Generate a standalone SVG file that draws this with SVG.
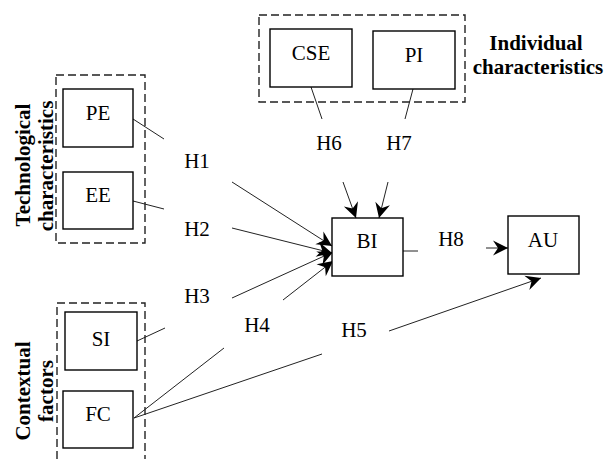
<svg xmlns="http://www.w3.org/2000/svg" width="604" height="459" viewBox="0 0 604 459">
  <style>
    .box { fill: #fff; stroke: #000; stroke-width: 1.4; }
    .group { fill: none; stroke: #222; stroke-width: 1.4; stroke-dasharray: 8 4; }
    .lbl { font-family: "Liberation Serif", "Times New Roman", serif; font-size: 21px; fill: #000; text-anchor: middle; }
    .grp { font-family: "Liberation Serif", "Times New Roman", serif; font-size: 21px; font-weight: bold; fill: #000; text-anchor: middle; }
    .link { fill: none; stroke: #222; stroke-width: 1; }
    .arrow { fill: none; stroke: #222; stroke-width: 1; marker-end: url(#head); }
  </style>
  <defs>
    <marker id="head" markerUnits="userSpaceOnUse" viewBox="-16 -9 17 18" markerWidth="17" markerHeight="18" refX="0" refY="0" orient="auto">
      <path d="M0,0 L-15,-7.5 L-10,0 L-15,7.5 Z" fill="#000"/>
    </marker>
  </defs>

  <rect width="604" height="459" fill="#fff"/>

  <!-- construct groupings -->
  <g id="group-technological">
    <rect class="group" x="56" y="75" width="89" height="168"/>
    <text class="grp" transform="translate(29.5,165) rotate(-90)">Technological</text>
    <text class="grp" transform="translate(53,166) rotate(-90)">characteristics</text>
  </g>
  <g id="group-individual">
    <rect class="group" x="259" y="15" width="206" height="87"/>
    <text class="grp" x="536" y="50">Individual</text>
    <text class="grp" x="538" y="73.5">characteristics</text>
  </g>
  <g id="group-contextual">
    <rect class="group" x="57" y="303" width="88" height="170"/>
    <text class="grp" transform="translate(29.5,391) rotate(-90)">Contextual</text>
    <text class="grp" transform="translate(53,391) rotate(-90)">factors</text>
  </g>

  <!-- connectors and hypothesis labels -->
  <g id="connectors">
    <line class="link" x1="133" y1="119" x2="164" y2="139"/>
    <line class="link" x1="133" y1="201" x2="164" y2="209"/>
    <line class="link" x1="137" y1="341" x2="165" y2="328"/>
    <line class="link" x1="134" y1="418" x2="224" y2="348"/>
    <line class="link" x1="134" y1="418" x2="322" y2="354"/>
    <line class="link" x1="311" y1="87" x2="322" y2="119"/>
    <line class="link" x1="413" y1="89" x2="405" y2="119"/>
    <line class="link" x1="403" y1="251" x2="418" y2="251"/>

    <line class="arrow" x1="232" y1="182" x2="332" y2="246"/>
    <line class="arrow" x1="232" y1="228" x2="332" y2="253"/>
    <line class="arrow" x1="232" y1="298" x2="333" y2="252"/>
    <line class="arrow" x1="283" y1="300" x2="333" y2="261"/>
    <line class="arrow" x1="343" y1="182" x2="356" y2="218"/>
    <line class="arrow" x1="388" y1="182" x2="379" y2="218"/>
    <line class="arrow" x1="486" y1="248" x2="508" y2="248"/>
    <line class="arrow" x1="389" y1="331" x2="541" y2="278"/>

    <text class="lbl" x="197" y="168">H1</text>
    <text class="lbl" x="197" y="236">H2</text>
    <text class="lbl" x="197" y="303">H3</text>
    <text class="lbl" x="257" y="332">H4</text>
    <text class="lbl" x="354" y="337">H5</text>
    <text class="lbl" x="329" y="150">H6</text>
    <text class="lbl" x="399" y="150">H7</text>
    <text class="lbl" x="451" y="246">H8</text>
  </g>

  <!-- constructs -->
  <g id="PE">
    <rect class="box" x="63" y="89" width="70" height="58"/>
    <text class="lbl" x="98" y="120">PE</text>
  </g>
  <g id="EE">
    <rect class="box" x="63" y="172" width="70" height="57"/>
    <text class="lbl" x="98" y="202">EE</text>
  </g>
  <g id="CSE">
    <rect class="box" x="270" y="29" width="82" height="58"/>
    <text class="lbl" x="311" y="60">CSE</text>
  </g>
  <g id="PI">
    <rect class="box" x="373" y="31" width="82" height="58"/>
    <text class="lbl" x="414" y="62">PI</text>
  </g>
  <g id="SI">
    <rect class="box" x="65" y="312" width="72" height="58"/>
    <text class="lbl" x="101" y="346">SI</text>
  </g>
  <g id="FC">
    <rect class="box" x="63" y="391" width="70" height="57"/>
    <text class="lbl" x="98" y="421">FC</text>
  </g>
  <g id="BI">
    <rect class="box" x="332" y="218" width="71" height="58"/>
    <text class="lbl" x="367" y="248">BI</text>
  </g>
  <g id="AU">
    <rect class="box" x="508" y="216" width="71" height="58"/>
    <text class="lbl" x="543" y="247">AU</text>
  </g>
</svg>
